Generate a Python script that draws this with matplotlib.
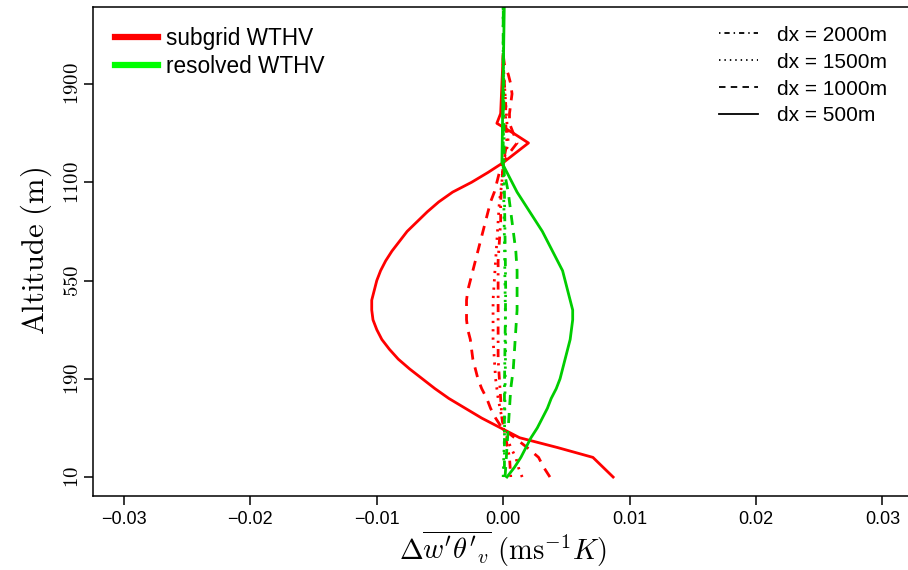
import numpy as np
import matplotlib
matplotlib.use("Agg")
import matplotlib.pyplot as plt
from matplotlib.lines import Line2D

plt.rcParams['font.family'] = ['Liberation Sans', 'DejaVu Sans']
plt.rcParams['mathtext.fontset'] = 'cm'

# model levels used on the y axis, with altitude labels at selected levels
tick_levels = [1, 11, 21, 31, 41]
tick_alts = ['10', '190', '550', '1100', '1900']

# subgrid WTHV difference profiles (level, value)
sub500_lev = [1, 3, 4, 5, 6, 7, 8, 9, 10, 11, 12, 13, 14, 15, 16, 17, 18, 19, 20,
              21, 22, 23, 24, 25, 26, 27, 28, 29, 30, 31, 32, 33, 34, 35, 36, 37, 38, 44]
sub500_val = [0.0087, 0.0071, 0.0043, 0.0013, -0.0002, -0.0017, -0.0030, -0.0043,
              -0.0054, -0.0064, -0.0074, -0.0083, -0.0090, -0.0096, -0.0100, -0.0103,
              -0.0104, -0.0104, -0.0102, -0.0100, -0.0097, -0.0093, -0.0088, -0.0082,
              -0.0076, -0.0068, -0.0060, -0.0051, -0.0040, -0.0025, -0.0012, 0.0000,
              0.0010, 0.0020, 0.0008, -0.0005, -0.0002, 0.0000]

sub1000_lev = [1, 2, 3, 4, 5, 6, 7, 8, 9, 10, 11, 12, 13, 14, 15, 16, 17, 18, 19, 20,
               21, 22, 23, 24, 25, 26, 27, 28, 29, 30, 31, 32, 33, 34, 35, 36, 37, 38,
               39, 40, 41, 42, 43, 44]
sub1000_val = [0.0037, 0.0032, 0.0028, 0.0019, 0.0009, -0.0001, -0.0006, -0.0010,
               -0.0013, -0.0017, -0.0020, -0.0022, -0.0024, -0.0025, -0.0026, -0.0028,
               -0.0029, -0.0029, -0.0029, -0.0028, -0.0026, -0.0024, -0.0022, -0.0020,
               -0.0018, -0.0016, -0.0014, -0.0012, -0.0010, -0.0007, -0.0005, -0.0003,
               0.0000, 0.0005, 0.0011, 0.0008, 0.0005, 0.0005, 0.0006, 0.0007, 0.0006,
               0.0004, 0.0001, 0.0000]

sub1500_lev = [1, 2, 3, 4, 5, 6, 7, 9, 11, 13, 15, 17, 19, 21, 23, 25, 27, 29, 31,
               33, 35, 37, 39, 41, 43, 44]
sub1500_val = [0.0015, 0.0012, 0.0010, 0.0006, 0.0003, 0.0000, -0.0001, -0.0004,
               -0.0006, -0.0007, -0.0008, -0.0008, -0.0008, -0.0007, -0.0006, -0.0005,
               -0.0004, -0.0003, -0.0001, 0.0000, 0.0004, 0.0003, 0.0002, 0.0001,
               0.0000, 0.0000]

sub2000_lev = [1, 3, 5, 7, 9, 11, 13, 15, 17, 19, 21, 23, 25, 27, 29, 31, 33, 35,
               37, 39, 41, 43, 44]
sub2000_val = [0.0006, 0.0005, 0.0002, -0.0001, -0.0002, -0.0003, -0.0004, -0.0004,
               -0.0004, -0.0004, -0.0004, -0.0004, -0.0003, -0.0002, -0.0002, -0.0001,
               0.0000, 0.0003, 0.0002, 0.0002, 0.0001, 0.0000, 0.0000]

# resolved WTHV difference profiles
res500_lev = [1, 2, 3, 4, 5, 6, 7, 8, 9, 10, 11, 12, 13, 14, 15, 16, 17, 18, 19, 20,
              21, 22, 23, 24, 25, 26, 27, 28, 29, 30, 31, 32, 33, 50]
res500_val = [0.0003, 0.0009, 0.0014, 0.0018, 0.0022, 0.0027, 0.0031, 0.0035, 0.0038,
              0.0042, 0.0045, 0.0047, 0.0049, 0.0051, 0.0053, 0.0054, 0.0055, 0.0055,
              0.0053, 0.0051, 0.0049, 0.0047, 0.0043, 0.0039, 0.0035, 0.0031, 0.0026,
              0.0021, 0.0016, 0.0011, 0.0007, 0.0003, -0.0001, 0.0001]

res1000_lev = [1, 2, 4, 6, 8, 10, 12, 14, 16, 18, 20, 22, 24, 26, 28, 30, 32, 33, 50]
res1000_val = [0.00015, 0.0002, 0.0003, 0.0004, 0.0005, 0.0006, 0.0008, 0.0009, 0.0010,
               0.0011, 0.0011, 0.0011, 0.0010, 0.0008, 0.0006, 0.0004, 0.0001, 0.0000,
               0.0000]

res1500_lev = [1, 5, 15, 25, 33, 50]
res1500_val = [0.0000, 0.0001, 0.0002, 0.0001, 0.0000, 0.0000]

res2000_lev = [1, 10, 20, 30, 50]
res2000_val = [0.0001, 0.0001, 0.0002, 0.0001, 0.0000]

dx_labels = ['dx = 2000m', 'dx = 1500m', 'dx = 1000m', 'dx = 500m']

RED = '#ff0000'
GREEN = '#00cd00'
LW = 2.0
styles = {
    2000: (0, (0.8, 2.2, 2.9, 2.2)),
    1500: (0, (0.8, 2.2)),
    1000: (0, (3.6, 2.9)),
    500: '-',
}

fig = plt.figure(figsize=(9.08, 5.70), dpi=100)
ax = fig.add_axes([0.10275, 0.13035, 0.9024, 0.85737])

subs = [(sub2000_val, sub2000_lev, 2000), (sub1500_val, sub1500_lev, 1500),
        (sub1000_val, sub1000_lev, 1000), (sub500_val, sub500_lev, 500)]
ress = [(res2000_val, res2000_lev, 2000), (res1500_val, res1500_lev, 1500),
        (res1000_val, res1000_lev, 1000), (res500_val, res500_lev, 500)]
for val, lev, dx in subs:
    ax.plot(val, lev, color=RED, lw=LW, linestyle=styles[dx])
for val, lev, dx in ress:
    ax.plot(val, lev, color=GREEN, lw=LW, linestyle=styles[dx])

ax.set_xlim(-0.03243, 0.0324)
ax.set_ylim(-0.9, 48.84)

ax.set_xticks([-0.03, -0.02, -0.01, 0.0, 0.01, 0.02, 0.03])
ax.set_xticklabels(['\u22120.03', '\u22120.02', '\u22120.01', '0.00', '0.01', '0.02', '0.03'])
ax.set_yticks(tick_levels)
ax.set_yticklabels(['$%s$' % t for t in tick_alts], rotation=90, va='center')

ax.tick_params(axis='x', direction='out', length=6.3, width=1.1, labelsize=13, pad=5)
ax.tick_params(axis='y', direction='out', length=6.3, width=1.1, labelsize=15, pad=2)
for s in ax.spines.values():
    s.set_linewidth(1.1)

ax.set_ylabel(r'$\mathrm{Altitude\ (m)}$', fontsize=22, labelpad=6)
ax.set_xlabel(r"$\Delta\overline{w'\theta'_v}\ (\mathrm{ms}^{-1}K)$", fontsize=20.5, labelpad=0)

# colour legend (top left)
col_handles = [Line2D([], [], color=RED, lw=4.5), Line2D([], [], color='#00ff00', lw=4.5)]
leg1 = ax.legend(col_handles, ['subgrid WTHV', 'resolved WTHV'], loc='upper left',
                 bbox_to_anchor=(0.002, 1.0), frameon=False, fontsize=16.3,
                 handlelength=1.9, handletextpad=0.35, labelspacing=0.2)
ax.add_artist(leg1)

# line style legend (top right)
dx_handles = [Line2D([], [], color='black', lw=1.3, linestyle=styles[d]) for d in (2000, 1500, 1000, 500)]
ax.legend(dx_handles, dx_labels, loc='upper right', bbox_to_anchor=(0.992, 1.0),
          frameon=False, fontsize=15, handlelength=1.9, handletextpad=0.9, labelspacing=0.38)

fig.savefig('out.png', dpi=100)
